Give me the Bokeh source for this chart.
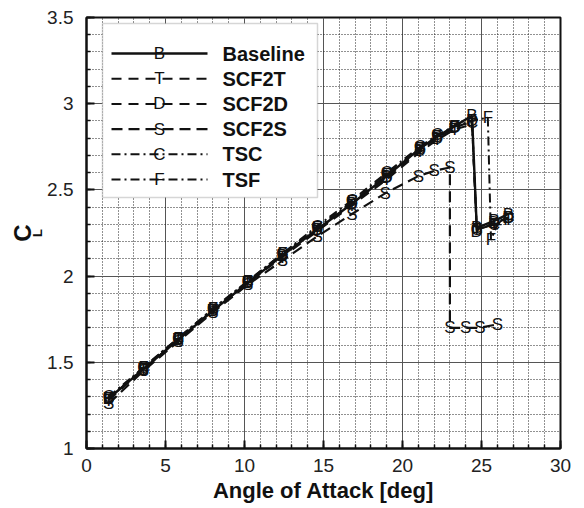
from bokeh.plotting import figure
from bokeh.models import Range1d, FixedTicker, Label, BoxAnnotation, Arrow, ColumnDataSource, Title
from bokeh.core.properties import value
from bokeh.embed import file_html
from bokeh.resources import INLINE

# ---------------- data ----------------
x_ticks = [0, 5, 10, 15, 20, 25, 30]
x_tick_labels = ["0", "5", "10", "15", "20", "25", "30"]
y_ticks = [1, 1.5, 2, 2.5, 3, 3.5]
y_tick_labels = ["1", "1.5", "2", "2.5", "3", "3.5"]

series_names = ["Baseline", "SCF2T", "SCF2D", "SCF2S", "TSC", "TSF"]
series_letters = ["B", "T", "D", "S", "C", "F"]

baseline_alpha = [1.4, 3.6, 5.8, 8.0, 10.2, 12.4, 14.6, 16.8, 19.0, 21.1, 22.2, 23.3, 24.4, 24.7, 25.8, 26.7]
baseline_cl = [1.29, 1.46, 1.63, 1.80, 1.96, 2.12, 2.27, 2.42, 2.58, 2.74, 2.81, 2.87, 2.93, 2.28, 2.32, 2.36]

scf2t_alpha = [1.4, 3.6, 5.8, 8.0, 10.2, 12.4, 14.6, 16.8, 19.0, 21.1, 22.2, 23.3, 24.4, 24.7, 25.8, 26.7]
scf2t_cl = [1.28, 1.46, 1.63, 1.80, 1.96, 2.11, 2.26, 2.41, 2.56, 2.72, 2.79, 2.85, 2.88, 2.27, 2.30, 2.33]

scf2d_alpha = [1.4, 3.6, 5.8, 8.0, 10.2, 12.4, 14.6, 16.8, 19.0, 21.1, 22.2, 23.3, 24.4, 24.7, 25.8, 26.7]
scf2d_cl = [1.29, 1.46, 1.63, 1.80, 1.96, 2.12, 2.27, 2.42, 2.57, 2.73, 2.80, 2.86, 2.90, 2.26, 2.31, 2.34]

scf2s_alpha = [1.4, 3.6, 5.8, 8.0, 10.2, 12.4, 14.6, 16.8, 18.9, 21.0, 22.0, 23.0, 23.0, 24.0, 24.9, 26.0]
scf2s_cl = [1.26, 1.45, 1.62, 1.79, 1.95, 2.09, 2.23, 2.36, 2.48, 2.58, 2.61, 2.63, 1.70, 1.70, 1.70, 1.72]

tsc_alpha = [1.4, 3.6, 5.8, 8.0, 10.2, 12.4, 14.6, 16.8, 19.0, 21.1, 22.2, 23.3, 24.4, 24.7, 25.8, 26.7]
tsc_cl = [1.30, 1.47, 1.64, 1.81, 1.97, 2.13, 2.29, 2.44, 2.60, 2.75, 2.82, 2.87, 2.89, 2.27, 2.30, 2.34]

tsf_alpha = [1.4, 3.6, 5.8, 8.0, 10.2, 12.4, 14.6, 16.8, 19.0, 21.1, 22.2, 23.3, 24.4, 25.4, 25.6, 26.0, 26.7]
tsf_cl = [1.29, 1.47, 1.64, 1.81, 1.97, 2.13, 2.28, 2.43, 2.59, 2.74, 2.81, 2.87, 2.90, 2.92, 2.21, 2.30, 2.33]

series_alpha = [baseline_alpha, scf2t_alpha, scf2d_alpha, scf2s_alpha, tsc_alpha, tsf_alpha]
series_cl = [baseline_cl, scf2t_cl, scf2d_cl, scf2s_cl, tsc_cl, tsf_cl]

# ---------------- styles ----------------
dashes = ["solid", "10 7", "10 7", "11 6", "9 4 2 4", "9 4 2 4"]
widths = [2.4, 2.0, 2.0, 2.2, 2.0, 2.0]
FONT = "Liberation Sans"
INK = "#111111"

p = figure(width=584, height=508, output_backend="svg", toolbar_location=None,
           x_range=Range1d(0, 30), y_range=Range1d(1, 3.5),
           min_border_left=86, min_border_right=24, min_border_top=17, min_border_bottom=60)
p.background_fill_color = "white"
p.border_fill_color = "white"
p.outline_line_color = INK
p.outline_line_width = 2

# axes
p.xaxis.ticker = FixedTicker(ticks=x_ticks, minor_ticks=[i for i in range(0, 31)])
p.yaxis.ticker = FixedTicker(ticks=y_ticks, minor_ticks=[1 + 0.1 * i for i in range(26)])
p.xaxis.major_label_overrides = {t: l for t, l in zip(x_ticks, x_tick_labels)}
p.yaxis.major_label_overrides = {t: l for t, l in zip(y_ticks, y_tick_labels)}
for ax in (p.xaxis, p.yaxis):
    ax.axis_line_color = INK
    ax.axis_line_width = 2
    ax.major_tick_in = 8
    ax.major_tick_out = 0
    ax.minor_tick_in = 4
    ax.minor_tick_out = 0
    ax.major_tick_line_color = INK
    ax.major_tick_line_width = 2
    ax.minor_tick_line_color = INK
    ax.minor_tick_line_width = 1.5
    ax.major_label_text_font = FONT
    ax.major_label_text_font_size = "19px"
    ax.major_label_text_color = "#222222"
p.xaxis.major_label_standoff = 10
p.yaxis.major_label_standoff = 13
p.xaxis.axis_label = "Angle of Attack [deg]"
p.xaxis.axis_label_text_font = FONT
p.xaxis.axis_label_text_font_size = "22px"
p.xaxis.axis_label_text_font_style = "bold"
p.xaxis.axis_label_text_color = INK
p.xaxis.axis_label_standoff = 3

# C_L y-axis title (subscript L nearer the axis, C further out)
p.add_layout(Title(text="L", text_font=FONT, text_font_size="13px", text_font_style="bold",
                   text_color=INK, align="center", offset=4, standoff=0), "left")
p.add_layout(Title(text="C", text_font=FONT, text_font_size="24px", text_font_style="bold",
                   text_color=INK, align="center", offset=-9, standoff=-16), "left")

# grids
for g in (p.xgrid, p.ygrid):
    g.grid_line_color = "#555555"
    g.grid_line_width = 1
    g.minor_grid_line_color = "#222222"
    g.minor_grid_line_dash = "1 2"
    g.minor_grid_line_width = 1

# data
for name, letter, ax_, cl_, dash, w in zip(series_names, series_letters, series_alpha, series_cl, dashes, widths):
    src = ColumnDataSource(dict(x=ax_, y=cl_, t=[letter] * len(ax_)))
    p.line("x", "y", source=src, line_color=INK, line_width=w, line_dash=dash)
    p.text("x", "y", text="t", source=src, text_align="center", text_baseline="middle",
           text_font=value(FONT), text_font_size="17px", text_color=INK)

# manual legend (screen units relative to frame, y measured from frame bottom)
frame_h = 431
box_left, box_right, box_top, box_bottom = 16, 231, frame_h - 6, frame_h - 180
p.add_layout(BoxAnnotation(left=box_left, right=box_right, top=box_top, bottom=box_bottom,
                           left_units="screen", right_units="screen", top_units="screen", bottom_units="screen",
                           fill_color="white", fill_alpha=1.0, line_color="#777777", line_width=1.5))
row0 = frame_h - 36
pitch = 25.2
for i, (name, letter, dash, w) in enumerate(zip(series_names, series_letters, dashes, widths)):
    yy = row0 - i * pitch
    p.add_layout(Arrow(end=None, x_start=25, y_start=yy, x_end=121, y_end=yy,
                       start_units="screen", end_units="screen",
                       line_color=INK, line_width=w, line_dash=dash))
    p.add_layout(Label(x=73, y=yy, text=letter, x_units="screen", y_units="screen",
                       text_align="center", text_baseline="middle", text_font=FONT,
                       text_font_size="17px", text_color=INK))
    p.add_layout(Label(x=136, y=yy, text=name, x_units="screen", y_units="screen",
                       text_align="left", text_baseline="middle", text_font=FONT,
                       text_font_size="20px", text_font_style="bold", text_color=INK))

open("out.html", "w").write(file_html(p, INLINE))
